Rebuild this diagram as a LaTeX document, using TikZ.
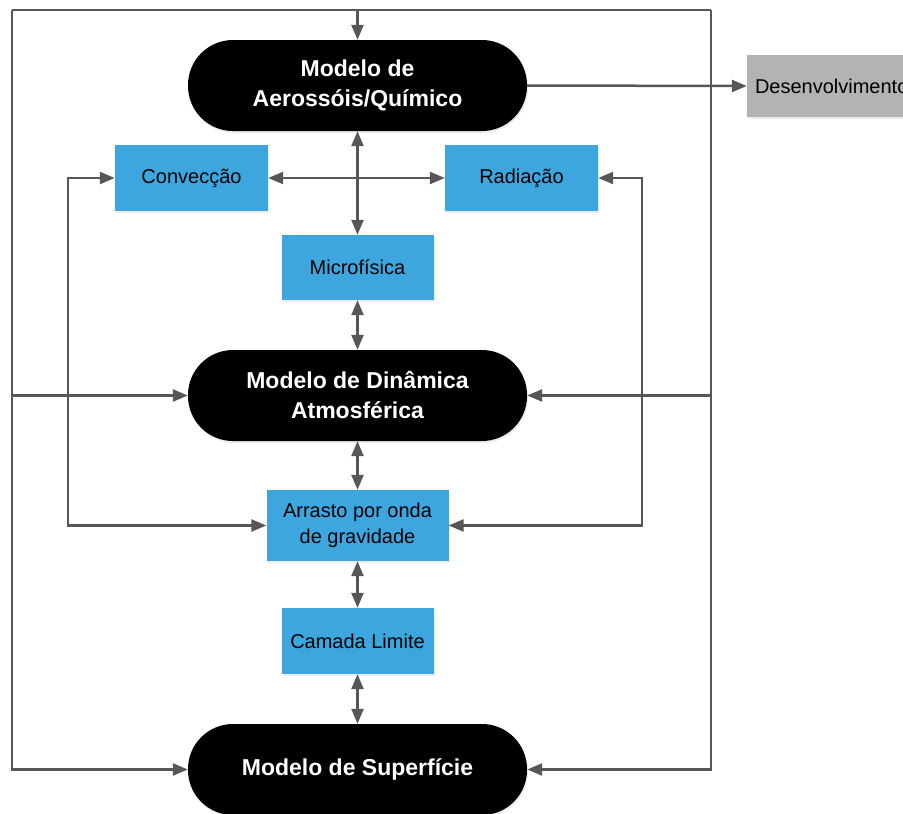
\documentclass[tikz,border=0pt]{standalone}
\usepackage{fontspec}
\setmainfont{Liberation Sans}
\usetikzlibrary{arrows.meta,shadows}
\definecolor{linegray}{HTML}{575757}
\definecolor{boxblue}{HTML}{3DA6DE}
\definecolor{boxgray}{HTML}{B3B3B3}

\begin{document}
\begin{tikzpicture}[x=1pt,y=-1pt,
    model/.style={rectangle, rounded corners=45pt, fill=black, text=white,
        minimum width=339pt, minimum height=91pt, inner sep=0pt, align=center,
        font=\fontsize{23}{30}\selectfont\bfseries,
        drop shadow={opacity=0.15, shadow xshift=1pt, shadow yshift=-2pt}},
    proc/.style={rectangle, fill=boxblue, text=black, minimum height=66pt,
        inner sep=0pt, align=center, font=\fontsize{20}{26}\selectfont,
        drop shadow={opacity=0.15, shadow xshift=1pt, shadow yshift=-2pt}},
    flow/.style={draw=linegray, line width=2.5pt,
        -{Triangle[length=15pt,width=12pt]}},
    twoway/.style={draw=linegray, line width=2.5pt,
        {Triangle[length=15pt,width=12pt]}-{Triangle[length=15pt,width=12pt]}}]
    \useasboundingbox (0,0) rectangle (903,814);
    \clip (0,0) rectangle (903,814);

    % modelos
    \node[model] (aero) at (357.5,85.5) {Modelo de\\Aerossóis/Químico};
    \node[model] (dyn) at (357.5,395.5) {Modelo de Dinâmica\\Atmosférica};
    \node[model] (sup) at (357.5,769.5) {Modelo de Superfície};

    % parametrizacoes
    \node[proc, minimum width=153pt] (conv) at (191.5,178) {Convecção};
    \node[proc, minimum width=153pt] (rad) at (521.5,178) {Radiação};
    \node[proc, minimum width=152pt, minimum height=65pt] (micro) at (357.5,267.5) {Microfísica};
    \node[proc, minimum width=182pt, minimum height=71pt] (drag) at (357.5,525.5) {Arrasto por onda\\de gravidade};
    \node[proc, minimum width=152pt] (pbl) at (357.5,641) {Camada Limite};
    \node[rectangle, fill=boxgray, minimum width=180pt, minimum height=62pt,
        inner sep=8pt, text width=164pt, font=\fontsize{20}{26}\selectfont,
        drop shadow={opacity=0.15, shadow xshift=1pt, shadow yshift=-2pt}]
        (dev) at (837,86) {Desenvolvimento};

    % laco externo
    \coordinate (otl) at (12,10);
    \coordinate (otr) at (711,10);
    \draw[draw=linegray, line width=2.5pt] (otl) -- (otr);
    \draw[flow] (otl) |- (sup.west);
    \draw[flow] (otr) |- (sup.east);
    \draw[flow] (dyn.west -| otl) -- (dyn.west);
    \draw[flow] (dyn.east -| otr) -- (dyn.east);
    \draw[flow] (aero.north |- otl) -- (aero.north);
    \draw[flow] (aero.east) -- (dev.west);

    % eixo central
    \draw[twoway] (aero.south) -- (micro.north);
    \draw[twoway] (conv.east) -- (rad.west);
    \draw[twoway] (micro.south) -- (dyn.north);
    \draw[twoway] (dyn.south) -- (drag.north);
    \draw[twoway] (drag.south) -- (pbl.north);
    \draw[twoway] (pbl.south) -- (sup.north);

    % lacos laterais
    \coordinate (lloop) at (68,0);
    \coordinate (rloop) at (642,0);
    \draw[twoway] (conv.west) -- (conv.west -| lloop) |- (drag.west);
    \draw[twoway] (rad.east) -- (rad.east -| rloop) |- (drag.east);
\end{tikzpicture}
\end{document}
